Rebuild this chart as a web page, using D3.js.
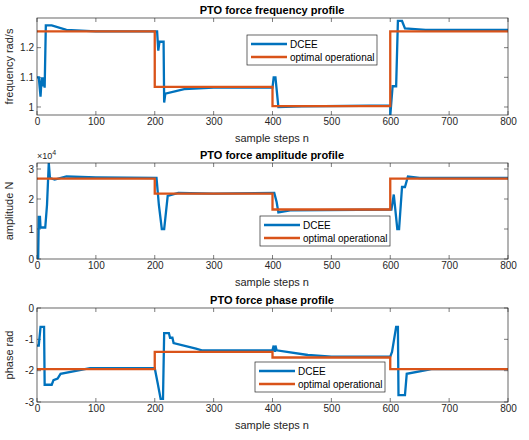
<!DOCTYPE html>
<html>
<head>
<meta charset="UTF-8">
<script src="https://d3js.org/d3.v7.min.js"></script>
<style>
  body { margin: 0; background: #fff; }
  text { font-family: "Liberation Sans", Arial, sans-serif; }
</style>
</head>
<body>
<svg id="chart" width="529" height="440"></svg>
<script>
// optimal operational steps: [start, end, value]
const freqOpt = [[0,200,1.255],[200,400,1.068],[400,600,1.003],[600,800,1.255]];
const ampOpt = [[0,200,2.68],[200,400,2.18],[400,600,1.65],[600,800,2.68]];
const phaseOpt = [[0,200,-1.95],[200,400,-1.4],[400,600,-1.58],[600,800,-1.95]];

// DCEE traces: [n, value]
const freqDcee = [[0,1.1],[3,1.1],[6,1.035],[8,1.1],[10,1.07],[12,1.1],[13,1.065],[15,1.275],[25,1.275],[50,1.26],[100,1.255],[204,1.255],[206,1.19],[208,1.22],[215,1.22],[216,1.015],[218,1.045],[250,1.06],[300,1.065],[400,1.065],[402,1.1],[405,1.1],[410,1.0],[450,1.002],[600,1.005],[600,0.97],[604,1.07],[610,1.07],[613,1.29],[620,1.29],[625,1.265],[660,1.26],[800,1.26]];
const ampDcee = [[0,0],[2,0],[3,1.4],[5,1.4],[6,1.05],[14,1.05],[17,1.8],[20,3.2],[22,2.7],[30,2.65],[50,2.75],[100,2.72],[203,2.7],[207,1.8],[212,1.0],[216,1.0],[222,2.1],[240,2.2],[300,2.18],[403,2.2],[407,1.9],[410,1.55],[430,1.62],[602,1.65],[606,2.15],[612,1.0],[615,1.0],[620,2.4],[625,2.4],[630,2.75],[650,2.7],[800,2.7]];
const phaseDcee = [[0,-1.2],[3,-1.2],[6,-0.6],[12,-0.6],[13,-2.45],[25,-2.45],[28,-2.3],[35,-2.25],[40,-2.1],[90,-1.92],[200,-1.92],[205,-2.4],[210,-2.9],[214,-2.9],[216,-0.8],[224,-0.8],[226,-0.95],[230,-0.95],[232,-1.12],[270,-1.3],[280,-1.35],[400,-1.35],[402,-1.2],[404,-1.4],[405,-1.2],[407,-1.35],[460,-1.5],[500,-1.55],[600,-1.55],[603,-1.4],[610,-0.6],[613,-0.6],[614,-2.78],[625,-2.78],[628,-2.1],[670,-1.95],[800,-1.95]];

const xTicks = [0,100,200,300,400,500,600,700,800];

const panels = [
  {title:"PTO force frequency profile", ylabel:"frequency rad/s", top:18, bottom:115, dom:[0.973,1.3], ticks:[1,1.1,1.2], fmt:d=>d===1?"1":d.toFixed(1), dcee:freqDcee, opt:freqOpt, leg:[247,35]},
  {title:"PTO force amplitude profile", ylabel:"amplitude N", top:163, bottom:259, dom:[0,3.2], ticks:[0,1,2,3], fmt:d=>d, dcee:ampDcee, opt:ampOpt, leg:[260,216], exp:true},
  {title:"PTO force phase profile", ylabel:"phase rad", top:308, bottom:402, dom:[-3,0], ticks:[-3,-2,-1,0], fmt:d=>d, dcee:phaseDcee, opt:phaseOpt, leg:[255,362]}
];

const svg = d3.select("#chart");
const x = d3.scaleLinear().domain([0,800]).range([37,508]);

panels.forEach(p => {
  const y = d3.scaleLinear().domain(p.dom).range([p.bottom, p.top]);
  const g = svg.append("g");

  const clipId = "clip" + p.top;
  g.append("clipPath").attr("id", clipId).append("rect")
    .attr("x", 37).attr("y", p.top).attr("width", 471).attr("height", p.bottom - p.top);

  // axes
  const ax = g.append("g").attr("transform", `translate(0,${p.bottom})`)
    .call(d3.axisBottom(x).tickValues(xTicks).tickSize(-(p.bottom-p.top)).tickSizeOuter(0));
  const ay = g.append("g").attr("transform", "translate(37,0)")
    .call(d3.axisLeft(y).tickValues(p.ticks).tickFormat(p.fmt).tickSize(-471).tickSizeOuter(0));
  [ax, ay].forEach(a => {
    a.select(".domain").remove();
    a.selectAll(".tick line").attr("stroke", "none");
    a.selectAll("text").attr("fill", "#262626").style("font-size", "10px");
  });
  // small inward ticks
  xTicks.forEach(t => {
    g.append("line").attr("x1", x(t)).attr("x2", x(t)).attr("y1", p.bottom).attr("y2", p.bottom-4).attr("stroke", "#262626").attr("stroke-width", 0.6);
    g.append("line").attr("x1", x(t)).attr("x2", x(t)).attr("y1", p.top).attr("y2", p.top+4).attr("stroke", "#262626").attr("stroke-width", 0.6);
  });
  p.ticks.forEach(t => {
    g.append("line").attr("x1", 37).attr("x2", 41).attr("y1", y(t)).attr("y2", y(t)).attr("stroke", "#262626").attr("stroke-width", 0.6);
    g.append("line").attr("x1", 504).attr("x2", 508).attr("y1", y(t)).attr("y2", y(t)).attr("stroke", "#262626").attr("stroke-width", 0.6);
  });

  const line = d3.line().x(d => x(d[0])).y(d => y(d[1]));
  g.append("path").datum(p.dcee).attr("d", line).attr("clip-path", `url(#${clipId})`)
    .attr("fill", "none").attr("stroke", "#0072BD").attr("stroke-width", 2.3);
  const optPts = [];
  p.opt.forEach(s => { optPts.push([s[0], s[2]]); optPts.push([s[1], s[2]]); });
  g.append("path").datum(optPts).attr("d", line).attr("clip-path", `url(#${clipId})`)
    .attr("fill", "none").attr("stroke", "#D95319").attr("stroke-width", 2.3);

  g.append("rect").attr("x", 37).attr("y", p.top).attr("width", 471).attr("height", p.bottom - p.top)
    .attr("fill", "none").attr("stroke", "#262626").attr("stroke-width", 0.7);

  g.append("text").attr("x", 272).attr("y", p.top - 4).attr("text-anchor", "middle")
    .style("font-size", "11px").style("font-weight", "bold").attr("fill", "#000").text(p.title);
  g.append("text").attr("x", 272).attr("y", p.bottom + 27).attr("text-anchor", "middle")
    .style("font-size", "11px").attr("fill", "#262626").text("sample steps n");
  g.append("text").attr("transform", `translate(13,${(p.top+p.bottom)/2}) rotate(-90)`).attr("text-anchor", "middle")
    .style("font-size", "11px").attr("fill", "#262626").text(p.ylabel);
  if (p.exp) {
    const t = g.append("text").attr("x", 37).attr("y", p.top - 4).style("font-size", "9px").attr("fill", "#262626");
    t.append("tspan").text("×10");
    t.append("tspan").attr("dy", -4).style("font-size", "7px").text("4");
  }

  // legend
  const [lx, ly] = p.leg;
  const lw = 130, lh = 30;
  const lg = g.append("g");
  lg.append("rect").attr("x", lx).attr("y", ly).attr("width", lw).attr("height", lh)
    .attr("fill", "#fff").attr("stroke", "#262626").attr("stroke-width", 0.7);
  [["DCEE", "#0072BD"], ["optimal operational", "#D95319"]].forEach((e, i) => {
    const yy = ly + 9 + i * 13;
    lg.append("line").attr("x1", lx + 4).attr("x2", lx + 40).attr("y1", yy).attr("y2", yy)
      .attr("stroke", e[1]).attr("stroke-width", 2.3);
    lg.append("text").attr("x", lx + 43).attr("y", yy + 3.5).style("font-size", "10px").attr("fill", "#000").text(e[0]);
  });
});
</script>
</body>
</html>
